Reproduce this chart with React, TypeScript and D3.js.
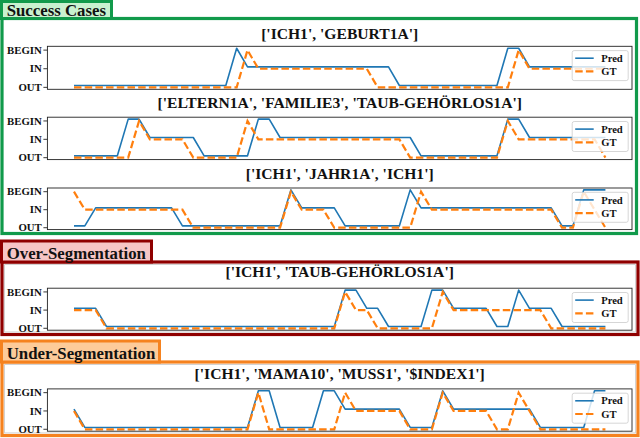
import React from "react";
import * as d3 from "d3";

// 0 = OUT, 1 = IN, 2 = BEGIN
const tickLabels = ["OUT", "IN", "BEGIN"];
const seriesNames = ["Pred", "GT"];

const titles = [
  "['ICH1', 'GEBURT1A']",
  "['ELTERN1A', 'FAMILIE3', 'TAUB-GEHÖRLOS1A']",
  "['ICH1', 'JAHR1A', 'ICH1']",
  "['ICH1', 'TAUB-GEHÖRLOS1A']",
  "['ICH1', 'MAMA10', 'MUSS1', '$INDEX1']",
];

const pred1 = [0,0,0,0,0,0,0,0,0,0,0,0,0,0,0,2,1,1,1,1,1,1,1,1,1,1,1,1,1,1,0,0,0,0,0,0,0,0,0,0,2,2,1,1,1,1,1,1,1,1];
const gt1   = [0,0,0,0,0,0,0,0,0,0,0,0,0,0,0,0,2,1,1,1,1,1,1,1,1,1,1,1,0,0,0,0,0,0,0,0,0,0,0,0,0,2,1,1,1,1,1,1,1,1];

const pred2 = [0,0,0,0,0,2,2,1,1,1,1,1,0,0,0,0,0,2,2,1,1,1,1,1,1,1,1,1,1,1,1,1,0,0,0,0,0,0,0,0,2,2,1,1,1,1,1,1,1,1];
const gt2   = [0,0,0,0,0,0,2,1,1,1,1,0,0,0,0,0,2,1,1,1,1,1,1,1,1,1,1,1,1,1,1,0,0,0,0,0,0,0,0,0,2,1,1,1,1,1,1,1,1,0];

const pred3 = [0,0,1,1,1,1,1,1,1,1,0,0,0,0,0,0,0,0,0,0,2,1,1,1,1,0,0,0,0,0,0,2,1,1,1,1,1,1,1,1,1,1,1,1,1,0,0,2,2,2];
const gt3   = [2,1,1,1,1,1,1,1,1,1,1,0,0,0,0,0,0,0,0,0,2,1,1,1,0,0,0,0,0,0,0,0,2,1,1,1,1,1,1,1,1,1,1,1,1,0,0,2,1,0];

const pred4 = [1,1,1,0,0,0,0,0,0,0,0,0,0,0,0,0,0,0,0,0,0,0,0,0,0,2,2,1,1,0,0,0,0,2,2,1,1,1,1,0,0,2,1,1,1,0,0,0,0,0];
const gt4   = [1,1,1,0,0,0,0,0,0,0,0,0,0,0,0,0,0,0,0,0,0,0,0,0,0,2,1,1,0,0,0,0,0,0,2,1,1,1,1,1,1,1,1,1,0,0,0,0,0,0];

const pred5 = [1,0,0,0,0,0,0,0,0,0,0,0,0,0,0,0,0,2,2,0,0,0,0,2,2,1,1,1,1,1,1,0,0,0,2,1,1,1,1,1,1,1,1,0,0,0,0,0,2,2];
const gt5   = [1,0,0,0,0,0,0,0,0,0,0,0,0,0,0,0,0,2,0,0,0,0,0,0,0,2,1,1,1,1,1,0,0,0,2,1,1,1,1,0,0,2,1,0,0,0,0,0,0,0];

const predSeries = [pred1, pred2, pred3, pred4, pred5];
const gtSeries = [gt1, gt2, gt3, gt4, gt5];

const sectionNames = ["Success Cases", "Over-Segmentation", "Under-Segmentation"];

const W = 640;
const H = 438;
const AX_L = 47.4;
const AX_R = 632;
const PRED_OFFSET = 0.1;

const panelTops = [46.3, 117.2, 188, 288.2, 388.9];
const panelHeights = [43, 42.4, 41.6, 42, 42.3];
const titleBaselines = [38.5, 107.9, 179.2, 277.4, 378.8];

const COLORS = { pred: "#1f77b4", gt: "#ff7f0e" };
const times = "'Liberation Serif', 'Times New Roman', serif";

function Panel({ idx }: { idx: number }) {
  const pred = predSeries[idx];
  const gt = gtSeries[idx];
  const top = panelTops[idx];
  const bottom = top + panelHeights[idx];
  const n = pred.length;
  const pad = (n - 1) * 0.05;
  const x = d3.scaleLinear().domain([-pad, n - 1 + pad]).range([AX_L, AX_R]);
  const lo = 0, hi = 2 + PRED_OFFSET;
  const m = (hi - lo) * 0.05;
  const y = d3.scaleLinear().domain([lo - m, hi + m]).range([bottom, top]);

  const predLine = d3.line<number>().x((_, i) => x(i)).y((d) => y(d + PRED_OFFSET))(pred) || "";
  const gtLine = d3.line<number>().x((_, i) => x(i)).y((d) => y(d))(gt) || "";

  const lgW = 56, lgH = 30;
  const lgX = AX_R - 3.8 - lgW;
  const lgY = top + 4.3;

  return (
    <g>
      <text x={(AX_L + AX_R) / 2} y={titleBaselines[idx]} textAnchor="middle"
        fontFamily={times} fontWeight="bold" fontSize={15.6} fill="#111">
        {titles[idx]}
      </text>
      <rect x={AX_L} y={top} width={AX_R - AX_L} height={bottom - top} fill="#fff" />
      <path d={predLine} fill="none" stroke={COLORS.pred} strokeWidth={1.6} strokeLinejoin="round" />
      <path d={gtLine} fill="none" stroke={COLORS.gt} strokeWidth={2.2} strokeDasharray="7.5,3.2" />
      <rect x={AX_L} y={top} width={AX_R - AX_L} height={bottom - top} fill="none" stroke="#222" strokeWidth={0.9} />
      {[0, 1, 2].map((v) => (
        <g key={v}>
          <line x1={AX_L - 4} x2={AX_L} y1={y(v)} y2={y(v)} stroke="#222" strokeWidth={0.9} />
          <text x={AX_L - 5.6} y={y(v)} dy="0.34em" textAnchor="end"
            fontFamily={times} fontWeight="bold" fontSize={10.8} fill="#111">
            {tickLabels[v]}
          </text>
        </g>
      ))}
      <g>
        <rect x={lgX} y={lgY} width={lgW} height={lgH} rx={2} fill="#fff" fillOpacity={0.8} stroke="#cccccc" strokeWidth={0.8} />
        <line x1={lgX + 3} x2={lgX + 21.5} y1={lgY + 7.6} y2={lgY + 7.6} stroke={COLORS.pred} strokeWidth={1.6} />
        <line x1={lgX + 3} x2={lgX + 21.5} y1={lgY + 20.8} y2={lgY + 20.8} stroke={COLORS.gt} strokeWidth={2.2} strokeDasharray="7.5,3.2" />
        <text x={lgX + 29} y={lgY + 7.6} dy="0.34em" fontFamily={times} fontWeight="bold" fontSize={10.6} fill="#111">{seriesNames[0]}</text>
        <text x={lgX + 29} y={lgY + 20.8} dy="0.34em" fontFamily={times} fontWeight="bold" fontSize={10.6} fill="#111">{seriesNames[1]}</text>
      </g>
    </g>
  );
}

function Section({ name, stroke, fill, tab, box, inner }: {
  name: string; stroke: string; fill: string;
  tab: [number, number, number, number]; box: [number, number, number, number]; inner: boolean;
}) {
  return (
    <g>
      <rect x={box[0]} y={box[1]} width={box[2]} height={box[3]} fill="#fff" stroke={stroke} strokeWidth={3.2} />
      {inner && (
        <rect x={box[0] + 2.6} y={box[1] + 2.6} width={box[2] - 5.2} height={box[3] - 5.2} fill="none" stroke="#c8c8c8" strokeWidth={0.8} />
      )}
      <rect x={tab[0]} y={tab[1]} width={tab[2]} height={tab[3]} fill={fill} stroke={stroke} strokeWidth={3} />
      <text x={6.7} y={tab[1] + tab[3] - 2.8} fontFamily={times} fontWeight="bold" fontSize={16.8} fill="#111">{name}</text>
    </g>
  );
}

export default function App() {
  return (
    <svg width={W} height={H} viewBox={`0 0 ${W} ${H}`}
      style={{ position: "absolute", left: 0, top: 0, background: "#fff" }}>
      <rect x={0} y={0} width={W} height={H} fill="#fff" />
      <Section name={sectionNames[0]} stroke="#119a4b" fill="#c9f1cf" tab={[1.5, 1.5, 110, 17]} box={[2, 18.5, 634.5, 215]} inner={false} />
      <Section name={sectionNames[1]} stroke="#8f0000" fill="#f7c6c6" tab={[1.5, 241, 150, 21]} box={[2, 262, 636, 72.5]} inner={true} />
      <Section name={sectionNames[2]} stroke="#f5821f" fill="#fdcb9a" tab={[1.5, 341, 158, 21]} box={[2, 362, 636, 73.5]} inner={true} />
      {[0, 1, 2, 3, 4].map((i) => <Panel key={i} idx={i} />)}
    </svg>
  );
}
